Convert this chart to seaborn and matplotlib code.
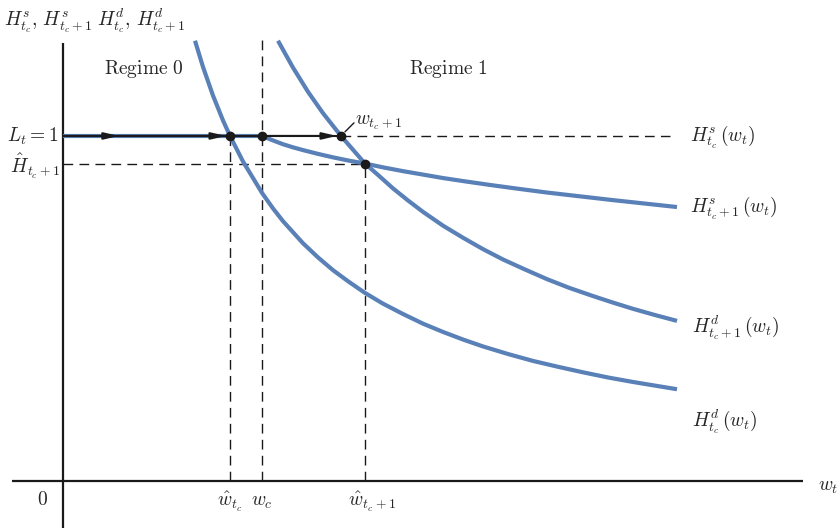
import matplotlib
matplotlib.use("Agg")
import matplotlib.pyplot as plt
import seaborn as sns
import pandas as pd

# ---- key values (wage axis / labour axis) ----
w_hat_tc = 1.67      # \hat w_{t_c}
w_c = 1.99           # w_c
w_tc1 = 2.78         # w_{t_c+1}
w_hat_tc1 = 3.02     # \hat w_{t_c+1}
L_t = 1.0            # L_t = 1
H_hat_tc1 = 0.920    # \hat H_{t_c+1}
y_top = 1.278

# ---- curves ----
Hd_tc_w = [1.32, 1.40, 1.50, 1.60, 1.67, 1.80, 1.99, 2.10, 2.20, 2.40, 2.55, 2.70, 2.85,
           3.02, 3.20, 3.40, 3.60, 3.80, 4.00, 4.20, 4.45, 4.70, 4.95, 5.20, 5.45, 5.70,
           5.95, 6.14]
Hd_tc_h = [1.276, 1.200, 1.117, 1.045, 1.000, 0.926, 0.835, 0.790, 0.753, 0.689, 0.648,
           0.611, 0.579, 0.545, 0.514, 0.484, 0.456, 0.432, 0.410, 0.390, 0.368, 0.348,
           0.331, 0.315, 0.300, 0.287, 0.275, 0.266]

Hd_tc1_w = [2.15, 2.30, 2.45, 2.60, 2.78, 2.90, 3.02, 3.15, 3.30, 3.45, 3.60, 3.80, 4.00,
            4.20, 4.40, 4.62, 4.84, 5.06, 5.30, 5.50, 5.70, 5.92, 6.14]
Hd_tc1_h = [1.276, 1.198, 1.128, 1.066, 1.000, 0.960, 0.920, 0.887, 0.848, 0.813, 0.780,
            0.740, 0.705, 0.672, 0.642, 0.613, 0.585, 0.560, 0.536, 0.517, 0.499, 0.481,
            0.464]

Hs_tc1_w = [1.99, 2.10, 2.20, 2.30, 2.40, 2.55, 2.70, 2.85, 3.02, 3.20, 3.40, 3.60, 3.80,
            4.03, 4.27, 4.55, 4.84, 5.17, 5.50, 5.82, 6.14]
Hs_tc1_h = [1.000, 0.987, 0.976, 0.967, 0.959, 0.948, 0.938, 0.929, 0.920, 0.909, 0.898,
            0.888, 0.878, 0.868, 0.858, 0.847, 0.836, 0.825, 0.814, 0.804, 0.794]

Hs_tc_w = [0.0, 1.99]
Hs_tc_h = [1.0, 1.0]

BLUE = "#5A80B8"

sns.set_theme(style="white")
plt.rcParams["mathtext.fontset"] = "cm"
plt.rcParams["font.family"] = ["DejaVu Sans"]

fig = plt.figure(figsize=(8.39, 5.30), dpi=100)
ax = fig.add_axes([0, 0, 1, 1])
ax.set_xlim(-0.63, 7.76)
ax.set_ylim(-0.142, 1.394)
ax.axis("off")

# axes
ax.plot([-0.51, 7.40], [0, 0], color="k", lw=1.6, solid_capstyle="butt")
ax.plot([0, 0], [-0.136, 1.270], color="k", lw=1.6, solid_capstyle="butt")

# dashed guides
dash = dict(color="k", lw=1.0, dashes=(7, 4.5))
ax.plot([w_hat_tc, w_hat_tc], [0, L_t], **dash)
ax.plot([w_c, w_c], [0, y_top], **dash)
ax.plot([w_hat_tc1, w_hat_tc1], [0, H_hat_tc1], **dash)
ax.plot([0, w_hat_tc1], [H_hat_tc1, H_hat_tc1], **dash)
ax.plot([w_tc1, 6.07], [L_t, L_t], **dash)

# curves
for wx, hy in [(Hs_tc_w, Hs_tc_h), (Hd_tc_w, Hd_tc_h), (Hd_tc1_w, Hd_tc1_h), (Hs_tc1_w, Hs_tc1_h)]:
    df = pd.DataFrame({"w": wx, "H": hy})
    sns.lineplot(data=df, x="w", y="H", ax=ax, color=BLUE, lw=3.0, sort=False,
                 estimator=None, solid_capstyle="butt", solid_joinstyle="round")

# black arrow path
ax.plot([0, w_tc1], [L_t, L_t], color="k", lw=1.5, solid_capstyle="butt", zorder=4)
ap = dict(arrowstyle="-|>,head_length=0.85,head_width=0.2", mutation_scale=10,
          color="k", lw=1.5, shrinkA=0, shrinkB=0)
ax.annotate("", xy=(w_hat_tc / 3, L_t), xytext=(0, L_t), arrowprops=ap, zorder=5)
ax.annotate("", xy=(w_hat_tc, L_t), xytext=(w_hat_tc / 3, L_t),
            arrowprops=dict(ap, shrinkB=3), zorder=5)
ax.annotate("", xy=(w_tc1, L_t), xytext=(w_c, L_t),
            arrowprops=dict(ap, shrinkB=3), zorder=5)

# points
ax.plot([w_hat_tc, w_c, w_tc1, w_hat_tc1], [L_t, L_t, L_t, H_hat_tc1], "o",
        color="k", ms=6, zorder=6)

# pointer to w_{t_c+1}
ax.plot([w_tc1 + 0.04, w_tc1 + 0.13], [L_t + 0.012, L_t + 0.038], color="k", lw=1.0)

fs = 14
ax.text(w_tc1 + 0.14, L_t + 0.04, r"$w_{t_c+1}$", fontsize=fs, ha="left", va="center")
ax.text(-0.59, 1.335, r"$H^s_{t_c},\,H^s_{t_c+1}\;H^d_{t_c},\,H^d_{t_c+1}$", fontsize=fs,
        ha="left", va="center")
ax.text(-0.045, L_t, r"$L_t=1$", fontsize=fs, ha="right", va="center")
ax.text(-0.025, H_hat_tc1 - 0.008, r"$\hat{H}_{t_c+1}$", fontsize=fs, ha="right", va="center")
ax.text(-0.21, -0.055, r"$0$", fontsize=fs, ha="center", va="center")
ax.text(w_hat_tc, -0.06, r"$\hat{w}_{t_c}$", fontsize=fs, ha="center", va="center")
ax.text(w_c, -0.06, r"$w_c$", fontsize=fs, ha="center", va="center")
ax.text(w_hat_tc1 + 0.07, -0.06, r"$\hat{w}_{t_c+1}$", fontsize=fs, ha="center", va="center")
ax.text(7.55, -0.015, r"$w_t$", fontsize=fs, ha="left", va="center")

ax.text(6.27, L_t - 0.005, r"$H^s_{t_c}\,(w_t)$", fontsize=fs, ha="left", va="center")
ax.text(6.27, Hs_tc1_h[-1] - 0.003, r"$H^s_{t_c+1}\,(w_t)$", fontsize=fs, ha="left", va="center")
ax.text(6.29, 0.444, r"$H^d_{t_c+1}\,(w_t)$", fontsize=fs, ha="left", va="center")
ax.text(6.29, 0.172, r"$H^d_{t_c}\,(w_t)$", fontsize=fs, ha="left", va="center")

ax.text(0.81, 1.194, r"$\mathrm{Regime\ 0}$", fontsize=fs, ha="center", va="center")
ax.text(3.85, 1.194, r"$\mathrm{Regime\ 1}$", fontsize=fs, ha="center", va="center")

fig.savefig("out.png", dpi=100)
